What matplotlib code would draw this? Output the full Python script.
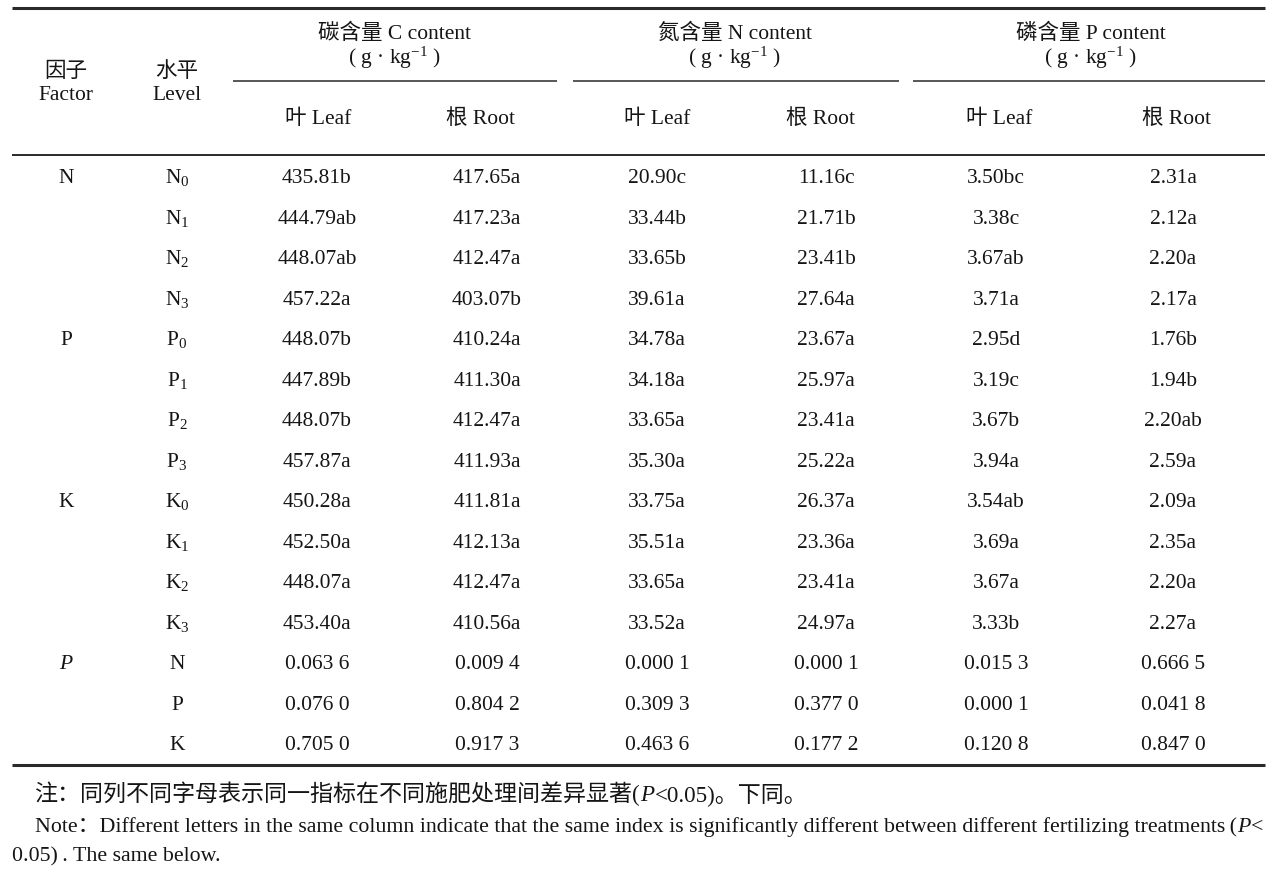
import matplotlib
matplotlib.use("Agg")
import matplotlib.pyplot as plt

plt.rcParams['font.family'] = ['Liberation Serif', 'Noto Sans CJK SC', 'DejaVu Sans']
plt.rcParams['mathtext.fontset'] = 'custom'
plt.rcParams['mathtext.rm'] = 'Liberation Serif'
plt.rcParams['mathtext.it'] = 'Liberation Serif:italic'
plt.rcParams['mathtext.bf'] = 'Liberation Serif:bold'

# ---------------- data ----------------
factors = ['N', 'P', 'K']
level_letters = ['N', 'N', 'N', 'N', 'P', 'P', 'P', 'P', 'K', 'K', 'K', 'K']
level_index = [0, 1, 2, 3, 0, 1, 2, 3, 0, 1, 2, 3]
group_titles = ['碳含量 C content', '氮含量 N content', '磷含量 P content']
organ_titles = ['叶 Leaf', '根 Root']

c_leaf = [435.81, 444.79, 448.07, 457.22, 448.07, 447.89, 448.07, 457.87, 450.28, 452.50, 448.07, 453.40]
c_leaf_sig = ['b', 'ab', 'ab', 'a', 'b', 'b', 'b', 'a', 'a', 'a', 'a', 'a']
c_root = [417.65, 417.23, 412.47, 403.07, 410.24, 411.30, 412.47, 411.93, 411.81, 412.13, 412.47, 410.56]
c_root_sig = ['a', 'a', 'a', 'b', 'a', 'a', 'a', 'a', 'a', 'a', 'a', 'a']
n_leaf = [20.90, 33.44, 33.65, 39.61, 34.78, 34.18, 33.65, 35.30, 33.75, 35.51, 33.65, 33.52]
n_leaf_sig = ['c', 'b', 'b', 'a', 'a', 'a', 'a', 'a', 'a', 'a', 'a', 'a']
n_root = [11.16, 21.71, 23.41, 27.64, 23.67, 25.97, 23.41, 25.22, 26.37, 23.36, 23.41, 24.97]
n_root_sig = ['c', 'b', 'b', 'a', 'a', 'a', 'a', 'a', 'a', 'a', 'a', 'a']
p_leaf = [3.50, 3.38, 3.67, 3.71, 2.95, 3.19, 3.67, 3.94, 3.54, 3.69, 3.67, 3.33]
p_leaf_sig = ['bc', 'c', 'ab', 'a', 'd', 'c', 'b', 'a', 'ab', 'a', 'a', 'b']
p_root = [2.31, 2.12, 2.20, 2.17, 1.76, 1.94, 2.20, 2.59, 2.09, 2.35, 2.20, 2.27]
p_root_sig = ['a', 'a', 'a', 'a', 'b', 'b', 'ab', 'a', 'a', 'a', 'a', 'a']

p_factors = ['N', 'P', 'K']
pv_c_leaf = [0.0636, 0.0760, 0.7050]
pv_c_root = [0.0094, 0.8042, 0.9173]
pv_n_leaf = [0.0001, 0.3093, 0.4636]
pv_n_root = [0.0001, 0.3770, 0.1772]
pv_p_leaf = [0.0153, 0.0001, 0.1208]
pv_p_root = [0.6665, 0.0418, 0.8470]

note_cn = ['注：同列不同字母表示同一指标在不同施肥处理间差异显著(', 'P', '<0.05)。下同。']
note_en1 = ['Note：Different letters in the same column indicate that the same index is significantly different between different fertilizing treatments\u2009(', 'P', '<']
note_en2 = '0.05)\u2009. The same below.'

# ---------------- layout ----------------
W, H = 1277, 872
fig = plt.figure(figsize=(W / 100, H / 100), dpi=100)
ax = fig.add_axes([0, 0, 1, 1])
ax.set_xlim(0, W)
ax.set_ylim(H, 0)
ax.axis('off')

FS = 15.5
TC = '#151515'
LC = '#2a2a2a'

x_factor, x_level = 66, 177
col_x = [317, 487, 657, 826, 996, 1173]
sub_x = [318, 480, 657, 820, 999, 1177]
grp_x = [395, 735, 1091]
grp_span = [(233, 557), (573, 899), (913, 1265)]
row_y0, row_dy = 176, 40.5
base_off = 7

# rules
ax.hlines(8, 12, 1265, color=LC, lw=2.2)
for a, b in grp_span:
    ax.hlines(81, a, b, color=LC, lw=1.1)
ax.hlines(155, 12, 1265, color=LC, lw=1.4)
ax.hlines(765, 12, 1265, color=LC, lw=2.2)

# headers
ax.text(x_factor, 72, '因子', ha='center', va='center', fontsize=FS, color=TC)
ax.text(x_factor, 95, 'Factor', ha='center', va='center', fontsize=FS, color=TC)
ax.text(x_level, 72, '水平', ha='center', va='center', fontsize=FS, color=TC)
ax.text(x_level, 95, 'Level', ha='center', va='center', fontsize=FS, color=TC)
for gx, title in zip(grp_x, group_titles):
    ax.text(gx, 34, title, ha='center', va='center', fontsize=FS, color=TC)
    ax.text(gx, 58, '( g \u00b7 kg$^{\\mathrm{-1}}$ )', ha='center', va='center', fontsize=FS, color=TC)
for i, sx in enumerate(sub_x):
    ax.text(sx, 119, organ_titles[i % 2], ha='center', va='center', fontsize=FS, color=TC)

# body
cols = [(c_leaf, c_leaf_sig), (c_root, c_root_sig), (n_leaf, n_leaf_sig),
        (n_root, n_root_sig), (p_leaf, p_leaf_sig), (p_root, p_root_sig)]
for r in range(len(level_letters)):
    y = row_y0 + r * row_dy + base_off
    if level_index[r] == 0:
        ax.text(x_factor, y, factors[r // 4], ha='center', va='baseline', fontsize=FS, color=TC)
    ax.text(x_level, y, '$\\mathrm{%s}_{%d}$' % (level_letters[r], level_index[r]),
            ha='center', va='baseline', fontsize=FS, color=TC)
    for cx, (vals, sig) in zip(col_x, cols):
        ax.text(cx, y, f'{vals[r]:.2f}{sig[r]}', ha='center', va='baseline', fontsize=FS, color=TC)


def fmt_p(v):
    s = f'{v:.4f}'
    return s[:-1] + ' ' + s[-1]


pcols = [pv_c_leaf, pv_c_root, pv_n_leaf, pv_n_root, pv_p_leaf, pv_p_root]
nrow = len(level_letters)
for k, fac in enumerate(p_factors):
    y = row_y0 + (nrow + k) * row_dy + base_off
    if k == 0:
        ax.text(x_factor, y, 'P', ha='center', va='baseline', fontsize=FS, color=TC, fontstyle='italic')
    ax.text(x_level, y, fac, ha='center', va='baseline', fontsize=FS, color=TC)
    for cx, vals in zip(col_x, pcols):
        ax.text(cx, y, fmt_p(vals[k]), ha='center', va='baseline', fontsize=FS, color=TC)

# notes (chained pieces)
renderer = fig.canvas.get_renderer()


def chain(x, y, pieces, italic_idx, fs):
    arts = []
    for i, p in enumerate(pieces):
        t = ax.text(x, y, p, ha='left', va='baseline', fontsize=fs, color=TC,
                    fontstyle='italic' if i in italic_idx else 'normal')
        arts.append(t)
        x += t.get_window_extent(renderer).width
    return x, arts


chain(35, 801, note_cn, {1}, 16.6)

# fit the English note so it spans the full table width
x_end, arts = chain(35, 832, note_en1, {1}, FS)
scale = (1265 - 35) / (x_end - 35)
for a in arts:
    a.remove()
fs_en = FS * scale
chain(35, 832, note_en1, {1}, fs_en)
ax.text(12, 861, note_en2, ha='left', va='baseline', fontsize=fs_en, color=TC)

fig.savefig('out.png', dpi=100)
